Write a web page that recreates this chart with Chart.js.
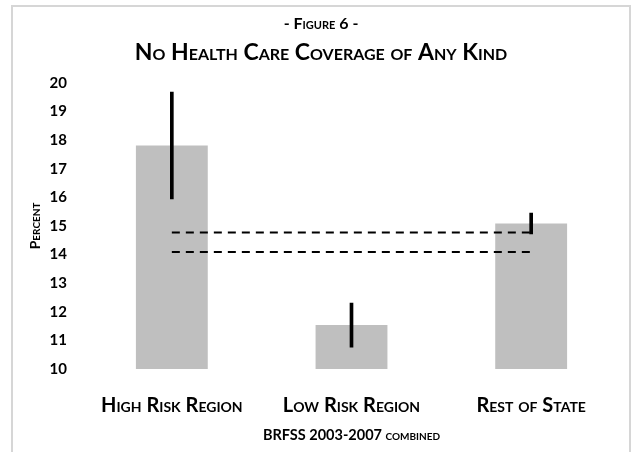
<!DOCTYPE html>
<html>
<head>
<meta charset="utf-8">
<script src="https://cdn.jsdelivr.net/npm/chart.js@4"></script>
<style>
  body { margin: 0; background: #fff; overflow: hidden; }
  #frame { position: absolute; left: 11px; top: 5px; width: 616px; height: 470px; border: 2px solid #d6d6d6; }
  #myChart { position: absolute; left: 0; top: 0; }
</style>
</head>
<body>
<div id="frame"></div>
<canvas id="myChart" width="632" height="452"></canvas>
<script>
// categories and values
var regions = ['High Risk Region', 'Low Risk Region', 'Rest of State'];
var percent = [17.81, 11.54, 15.08];
var ciLow = [15.94, 10.76, 14.72];
var ciHigh = [19.68, 12.30, 15.45];
// the two dashed reference lines
var refUpper = [14.77, 14.77, 14.77];
var refLower = [14.09, 14.09, 14.09];

var FONT = 'Lato, "Open Sans", sans-serif';
// small caps goes in front of the weight so the canvas font string picks it up
var SC_BOLD = 'small-caps bold';

function drawGraph(){
    var errBars = [];
    for (var i = 0; i < regions.length; i++) {
        errBars.push([ciLow[i], ciHigh[i]]);
    }

    var ctx = document.getElementById('myChart');
    var myChart = new Chart(ctx, {
        type: 'bar',
        data: {
            labels: regions,
            datasets: [{
                label: 'Percent',
                data: percent,
                backgroundColor: '#bfbfbf',
                barPercentage: 0.4,
                categoryPercentage: 1,
                grouped: false,
                order: 3
            }, {
                type: 'line',
                label: 'upper',
                data: refUpper,
                borderColor: '#000',
                borderWidth: 2,
                borderDash: [8, 6],
                pointRadius: 0,
                fill: false,
                order: 2
            }, {
                type: 'line',
                label: 'lower',
                data: refLower,
                borderColor: '#000',
                borderWidth: 2,
                borderDash: [8, 6],
                pointRadius: 0,
                fill: false,
                order: 2
            }, {
                label: 'CI',
                data: errBars,
                backgroundColor: '#000',
                barThickness: 3,
                grouped: false,
                order: 1
            }]
        },
        options: {
            responsive: false,
            animation: false,
            layout: { padding: { left: 21, right: 11, top: 0, bottom: 0 } },
            plugins: {
                legend: { display: false },
                tooltip: { enabled: false },
                title: {
                    display: true,
                    text: '- Figure 6 -',
                    color: '#000',
                    font: { family: FONT, size: 16, weight: SC_BOLD },
                    padding: { top: 14, bottom: 0 }
                },
                subtitle: {
                    display: true,
                    text: 'No Health Care Coverage of Any Kind',
                    color: '#000',
                    font: { family: FONT, size: 23, weight: SC_BOLD },
                    padding: { top: 6, bottom: 16 }
                }
            },
            scales: {
                x: {
                    grid: { display: false, drawTicks: false },
                    border: { display: false },
                    ticks: {
                        color: '#000',
                        padding: 25,
                        font: { family: FONT, size: 20, weight: SC_BOLD }
                    },
                    title: {
                        display: true,
                        text: 'BRFSS 2003-2007 combined',
                        color: '#000',
                        font: { family: FONT, size: 14.5, weight: SC_BOLD },
                        padding: { top: 10, bottom: 8 }
                    },
                    afterFit: function(scale){ scale.height = 83; }
                },
                y: {
                    min: 10,
                    max: 20,
                    grid: { display: false, drawTicks: false },
                    border: { display: false },
                    ticks: {
                        stepSize: 1,
                        color: '#000',
                        padding: 15,
                        font: { family: FONT, size: 15, weight: 'bold' }
                    },
                    title: {
                        display: true,
                        text: 'Percent',
                        color: '#000',
                        font: { family: FONT, size: 14, weight: SC_BOLD },
                        padding: { top: 6, bottom: 0 }
                    },
                    afterFit: function(scale){ scale.width = 61; }
                }
            }
        }
    });
}

drawGraph()
</script>
</body>
</html>
